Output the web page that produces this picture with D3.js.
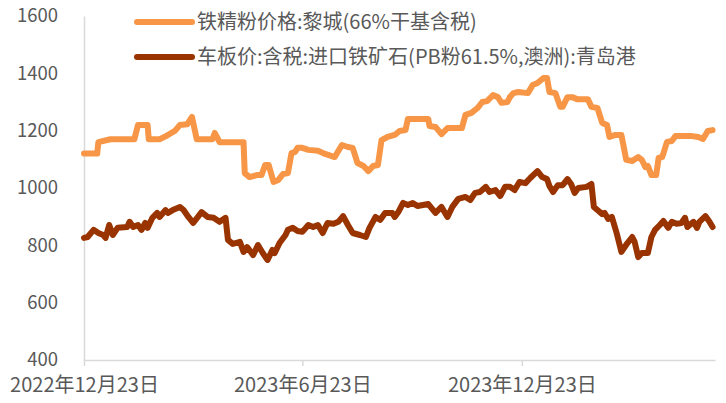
<!DOCTYPE html>
<html>
<head>
<meta charset="utf-8">
<script src="https://cdn.jsdelivr.net/npm/d3@7"></script>
<style>
  body { margin: 0; background: #fff; }
  text { font-family: "Noto Sans CJK SC", "Noto Sans", sans-serif; fill: #595959; }
</style>
</head>
<body>
<div id="chart"></div>
<script>
// series names (legend)
const seriesNames = ["铁精粉价格:黎城(66%干基含税)", "车板价:含税:进口铁矿石(PB粉61.5%,澳洲):青岛港"];

// 铁精粉价格 - dates and values
const fineDates = ["2022-12-23","2023-01-03","2023-01-04","2023-01-14","2023-02-03","2023-02-06","2023-02-14","2023-02-15","2023-02-24","2023-03-01",
  "2023-03-05","2023-03-09","2023-03-13","2023-03-19","2023-03-23","2023-03-27","2023-04-09","2023-04-11","2023-04-15","2023-05-05",
  "2023-05-06","2023-05-10","2023-05-16","2023-05-20","2023-05-23","2023-05-26","2023-05-30","2023-06-03","2023-06-07","2023-06-11",
  "2023-06-14","2023-06-17","2023-06-19","2023-06-23","2023-06-28","2023-07-06","2023-07-12","2023-07-20","2023-07-26","2023-07-31",
  "2023-08-04","2023-08-08","2023-08-13","2023-08-17","2023-08-21","2023-08-25","2023-08-28","2023-09-02","2023-09-08","2023-09-12",
  "2023-09-17","2023-09-19","2023-10-06","2023-10-07","2023-10-12","2023-10-17","2023-10-22","2023-11-03","2023-11-06","2023-11-11",
  "2023-11-16","2023-11-20","2023-11-24","2023-11-29","2023-12-03","2023-12-06","2023-12-11","2023-12-13","2023-12-16","2023-12-20",
  "2023-12-28","2024-01-01","2024-01-05","2024-01-10","2024-01-13","2024-01-15","2024-01-20","2024-01-24","2024-01-26","2024-01-30",
  "2024-02-03","2024-02-07","2024-02-16","2024-02-19","2024-02-24","2024-02-28","2024-03-03","2024-03-05","2024-03-10","2024-03-15",
  "2024-03-19","2024-03-24","2024-03-29","2024-04-01","2024-04-04","2024-04-06","2024-04-09","2024-04-13","2024-04-15","2024-04-18",
  "2024-04-22","2024-04-26","2024-04-29","2024-05-13","2024-05-18","2024-05-22","2024-05-26","2024-05-30"];
const fineValues = [1120,1120,1160,1170,1170,1220,1220,1170,1170,1180,
  1190,1200,1220,1222,1248,1170,1170,1192,1160,1160,
  1052,1038,1045,1045,1080,1080,1021,1028,1049,1052,
  1122,1126,1140,1140,1133,1130,1119,1108,1150,1143,
  1140,1087,1077,1059,1077,1080,1167,1178,1185,1199,
  1202,1241,1241,1216,1213,1188,1209,1209,1255,1262,
  1279,1300,1303,1324,1317,1297,1300,1317,1331,1335,
  1331,1359,1366,1384,1384,1335,1331,1283,1283,1317,
  1317,1310,1310,1283,1279,1227,1220,1178,1185,1185,
  1098,1094,1108,1098,1073,1077,1045,1045,1105,1108,
  1161,1164,1181,1181,1178,1171,1199,1202];

// 车板价 PB粉 - dates and values
const pbDates = ["2022-12-23","2022-12-26","2022-12-31","2023-01-04","2023-01-08","2023-01-10","2023-01-13","2023-01-16","2023-01-20","2023-01-28",
  "2023-01-30","2023-02-02","2023-02-06","2023-02-09","2023-02-12","2023-02-14","2023-02-18","2023-02-22","2023-02-24","2023-03-01",
  "2023-03-03","2023-03-07","2023-03-13","2023-03-16","2023-03-20","2023-03-24","2023-03-31","2023-04-05","2023-04-10","2023-04-15",
  "2023-04-20","2023-04-22","2023-04-26","2023-05-02","2023-05-05","2023-05-08","2023-05-13","2023-05-17","2023-05-21","2023-05-25",
  "2023-05-29","2023-05-31","2023-06-04","2023-06-09","2023-06-11","2023-06-15","2023-06-19","2023-06-23","2023-06-28","2023-07-02",
  "2023-07-06","2023-07-10","2023-07-14","2023-07-19","2023-07-23","2023-07-27","2023-07-31","2023-08-04","2023-08-10","2023-08-15",
  "2023-08-18","2023-08-23","2023-08-27","2023-08-31","2023-09-06","2023-09-08","2023-09-11","2023-09-15","2023-09-19","2023-09-23",
  "2023-09-27","2023-10-06","2023-10-12","2023-10-17","2023-10-22","2023-10-26","2023-10-31","2023-11-06","2023-11-10","2023-11-14",
  "2023-11-18","2023-11-23","2023-11-26","2023-12-01","2023-12-05","2023-12-09","2023-12-13","2023-12-17","2023-12-21","2023-12-26",
  "2023-12-30","2024-01-05","2024-01-09","2024-01-13","2024-01-15","2024-01-18","2024-01-22","2024-01-26","2024-01-30","2024-02-02",
  "2024-02-05","2024-02-08","2024-02-15","2024-02-19","2024-02-21","2024-02-24","2024-02-28","2024-03-01","2024-03-04","2024-03-07",
  "2024-03-11","2024-03-15","2024-03-20","2024-03-24","2024-03-26","2024-03-29","2024-04-01","2024-04-06","2024-04-09","2024-04-12",
  "2024-04-16","2024-04-19","2024-04-23","2024-04-26","2024-04-30","2024-05-04","2024-05-07","2024-05-09","2024-05-14","2024-05-17",
  "2024-05-19","2024-05-24","2024-05-27","2024-05-30"];
const pbValues = [826,829,854,843,836,826,871,836,861,864,
  882,864,871,854,878,861,896,913,899,923,
  913,923,934,923,899,878,916,899,896,882,
  896,819,805,812,777,794,766,801,773,749,
  784,773,808,836,854,861,850,847,871,864,
  871,843,878,875,882,902,871,843,836,829,
  861,899,889,913,913,899,916,948,941,948,
  937,944,913,934,899,934,962,969,958,983,
  986,1004,986,993,972,1004,1004,993,1021,1017,
  1035,1059,1038,1031,1007,986,1010,1010,1031,1014,
  983,1000,1004,1014,934,923,909,913,892,899,
  843,777,808,829,812,759,773,773,829,854,
  871,885,861,882,875,878,896,864,882,861,
  882,902,885,864];

// axis ticks
const yTicks = [400, 600, 800, 1000, 1200, 1400, 1600];
const xTickDates = ["2022-12-23", "2023-06-23", "2023-12-23"];
const xTickLabels = ["2022年12月23日", "2023年6月23日", "2023年12月23日"];
const xDomain = ["2022-12-23", "2024-06-01"];

const colors = ["#F79646", "#993300"];

const parse = d3.timeParse("%Y-%m-%d");
const fine = fineDates.map((d, i) => ({ date: parse(d), value: fineValues[i] }));
const pb = pbDates.map((d, i) => ({ date: parse(d), value: pbValues[i] }));

const width = 726, height = 403;
const margin = { top: 16, right: 11, bottom: 43, left: 84 };

const x = d3.scaleTime()
  .domain(xDomain.map(parse))
  .range([margin.left, width - margin.right]);

const y = d3.scaleLinear()
  .domain([400, 1600])
  .range([height - margin.bottom, margin.top]);

const svg = d3.select("#chart").append("svg")
  .attr("width", width)
  .attr("height", height);

// y axis: plain gray line, labels on the left
const yAxis = svg.append("g")
  .attr("transform", `translate(${margin.left},0)`)
  .call(d3.axisLeft(y).tickValues(yTicks).tickFormat(d3.format("d")).tickSize(0).tickPadding(26));
yAxis.select(".domain").attr("stroke", "#D9D9D9").attr("stroke-width", 1.5);
yAxis.selectAll("text").style("font-size", "18.5px").attr("fill", "#595959");

// x axis with outward ticks
const xAxis = svg.append("g")
  .attr("transform", `translate(0,${height - margin.bottom})`)
  .call(d3.axisBottom(x)
    .tickValues(xTickDates.map(parse))
    .tickFormat((d, i) => xTickLabels[i])
    .tickSizeInner(6).tickSizeOuter(0).tickPadding(12));
xAxis.select(".domain").attr("stroke", "#D9D9D9").attr("stroke-width", 1.5);
xAxis.selectAll(".tick line").attr("stroke", "#D9D9D9").attr("stroke-width", 1.5);
xAxis.selectAll("text").style("font-size", "20px").attr("fill", "#595959");

const line = d3.line()
  .x(d => x(d.date))
  .y(d => y(d.value));

[fine, pb].forEach((s, i) => {
  svg.append("path")
    .datum(s)
    .attr("fill", "none")
    .attr("stroke", colors[i])
    .attr("stroke-width", 6)
    .attr("stroke-linejoin", "round")
    .attr("stroke-linecap", "round")
    .attr("d", line);
});

// legend
const legend = svg.append("g");
seriesNames.forEach((name, i) => {
  const ly = 22 + i * 35;
  legend.append("line")
    .attr("x1", 137).attr("x2", 192)
    .attr("y1", ly).attr("y2", ly)
    .attr("stroke", colors[i])
    .attr("stroke-width", 6)
    .attr("stroke-linecap", "round");
  legend.append("text")
    .attr("x", 197)
    .attr("y", ly)
    .attr("dy", "0.35em")
    .style("font-size", "20px")
    .text(name);
});
</script>
</body>
</html>
